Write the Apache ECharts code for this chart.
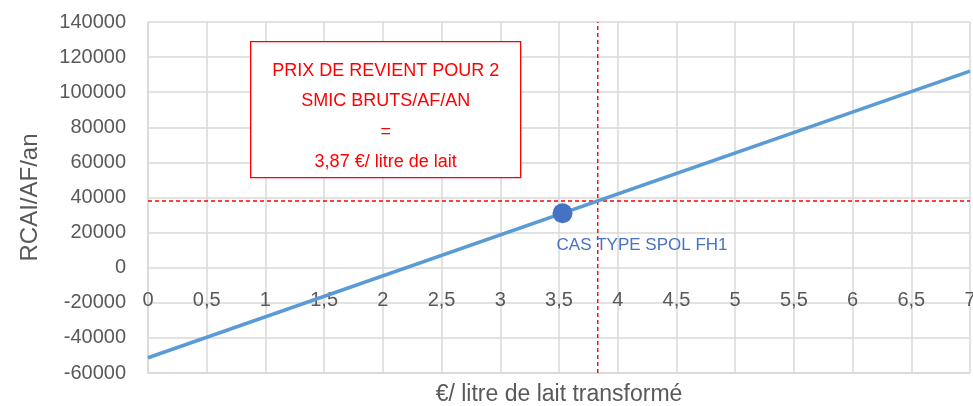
<!DOCTYPE html>
<html>
<head>
<meta charset="utf-8">
<script src="https://cdn.jsdelivr.net/npm/echarts@6/dist/echarts.min.js"></script>
<style>
  html, body { margin: 0; padding: 0; background: #fff; }
  #chart { width: 973px; height: 406px; }
</style>
</head>
<body>
<div id="chart"></div>
<script>
// droite du revenu (x en €/litre, y en RCAI/AF/an)
var lineX = [0, 7];
var lineY = [-51300, 112000];
// cas type
var caseX = 3.53;
var caseY = 31000;
var caseName = 'CAS TYPE SPOL FH1';
// prix de revient
var priceX = 3.83;
var priceY = 38000;
var boxLines = ['PRIX DE REVIENT POUR 2', 'SMIC BRUTS/AF/AN', '=', '3,87 €/ litre de lait'];

var xMin = 0, xMax = 7, yMin = -60000, yMax = 140000;
var font = 'Liberation Sans';
var myChart = echarts.init(document.getElementById('chart'));

var dashStyle = { color: '#ff0000', type: [4, 3], width: 1.4 };

var option = {
    animation: false,
    textStyle: { fontFamily: font },
    grid: { left: 148, right: 3, top: 22, bottom: 33, outerBoundsMode: 'none', containLabel: false },
    xAxis: {
        type: 'value',
        min: xMin, max: xMax, interval: 0.5,
        name: '€/ litre de lait transformé',
        nameLocation: 'middle',
        nameGap: 10,
        nameMoveOverlap: false,
        nameTextStyle: { color: '#595959', fontSize: 23, fontFamily: font },
        axisLine: { show: true, onZero: false, lineStyle: { color: '#d9d9d9', width: 1.5 } },
        axisTick: { show: false },
        // étiquettes placées juste sous la ligne du zéro, comme dans Excel
        axisLabel: {
            color: '#595959', fontSize: 20, margin: -83,
            formatter: function (v) { return String(v).replace('.', ','); }
        },
        splitLine: { show: true, lineStyle: { color: '#d9d9d9', width: 1.5 } }
    },
    yAxis: {
        type: 'value',
        min: yMin, max: yMax, interval: 20000,
        name: 'RCAI/AF/an',
        nameLocation: 'middle',
        nameGap: 106,
        nameTextStyle: { color: '#595959', fontSize: 24, fontFamily: font },
        axisLine: { show: true, onZero: false, lineStyle: { color: '#d9d9d9', width: 1.5 } },
        axisTick: { show: false },
        axisLabel: {
            color: '#595959', fontSize: 20, margin: 22,
            formatter: function (v) { return String(v); }
        },
        splitLine: { show: true, lineStyle: { color: '#d9d9d9', width: 1.5 } }
    },
    series: [{
        type: 'line',
        data: lineX.map(function (x, i) { return [x, lineY[i]]; }),
        symbol: 'none',
        lineStyle: { color: '#5b9bd5', width: 3.5 },
        z: 3
    }, {
        type: 'line',
        data: [[xMin, priceY], [xMax, priceY]],
        symbol: 'none',
        silent: true,
        lineStyle: dashStyle,
        z: 2
    }, {
        type: 'line',
        data: [[priceX, yMin], [priceX, yMax]],
        symbol: 'none',
        silent: true,
        lineStyle: dashStyle,
        z: 2
    }, {
        type: 'scatter',
        data: [[caseX, caseY]],
        symbolSize: 20,
        itemStyle: { color: '#4472c4', opacity: 1 },
        label: {
            show: true,
            formatter: caseName,
            position: [4, 34],
            color: '#4472c4',
            fontSize: 17,
            fontFamily: font
        },
        z: 5
    }],
    graphic: [{
        type: 'group',
        left: 250, top: 41,
        z: 100,
        children: [{
            type: 'rect',
            z: 100,
            shape: { x: 0, y: 0, width: 270, height: 136 },
            style: { fill: '#fff', stroke: '#ff0000', lineWidth: 1.3 }
        }, {
            type: 'text',
            z: 101,
            x: 135, y: 14,
            style: {
                text: boxLines.join('\n'),
                fill: '#ff0000',
                font: '18px "Liberation Sans"',
                align: 'center',
                lineHeight: 30.5
            }
        }]
    }]
};

myChart.setOption(option);
window.addEventListener('resize', function () { myChart.resize(); });
</script>
</body>
</html>
